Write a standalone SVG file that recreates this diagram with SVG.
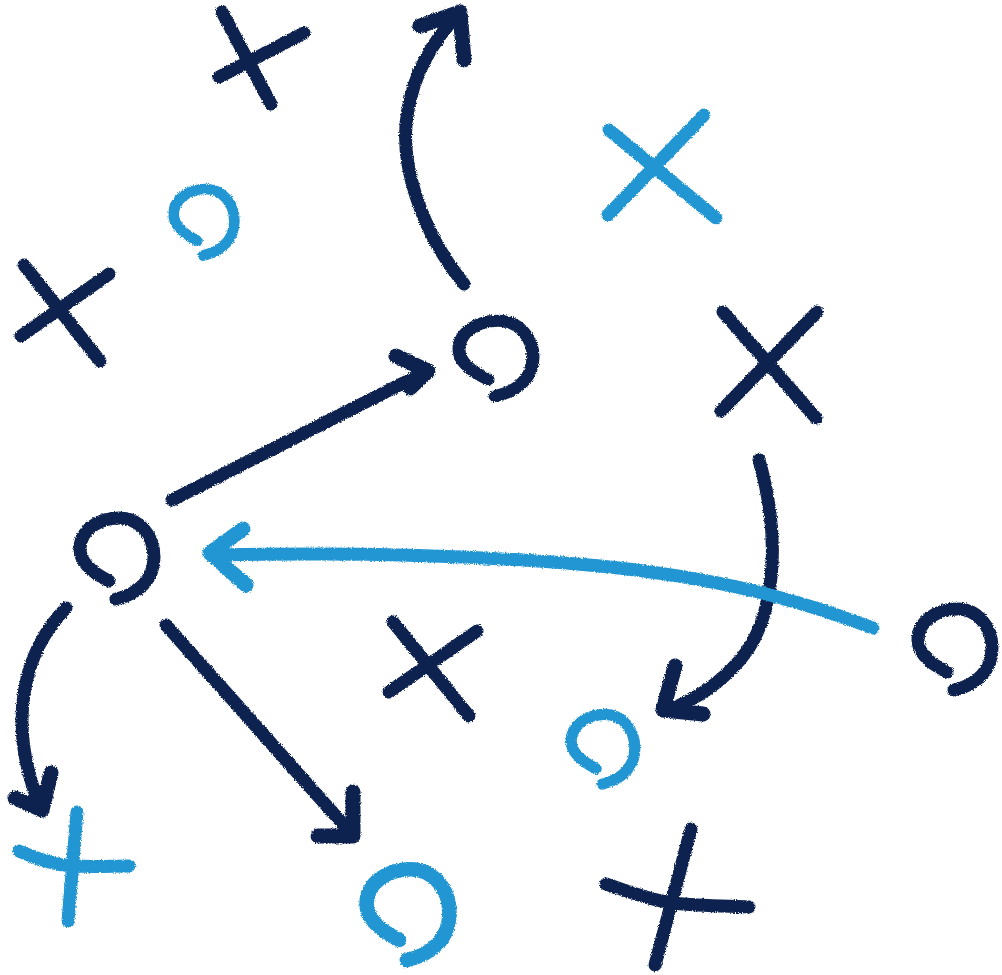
<svg xmlns="http://www.w3.org/2000/svg" width="1002" height="975" viewBox="0 0 1002 975">
  <style>
    .d { fill: none; stroke: #0e2350; stroke-width: 13; stroke-linecap: round; stroke-linejoin: round; }
    .l { fill: none; stroke: #2196d3; stroke-width: 13; stroke-linecap: round; stroke-linejoin: round; }
    .h { stroke-width: 15; }
  </style>
  <defs>
    <filter id="rough" x="-10%" y="-10%" width="120%" height="120%">
      <feTurbulence type="fractalNoise" baseFrequency="0.9" numOctaves="2" seed="3" result="n"/>
      <feDisplacementMap in="SourceGraphic" in2="n" scale="3.5" xChannelSelector="R" yChannelSelector="G"/>
    </filter>
    <path id="ring" d="M -8,24 C -24,16 -37,6 -37,-8 C -37,-27 -18,-39 2,-39 C 22,-39 37,-22 37,0 C 37,22 22,37 -1,42"/>
  </defs>
  <rect width="1002" height="975" fill="#ffffff"/>
  <g filter="url(#rough)">
    <g id="connectors">
      <g id="arrow-up">
        <path class="d" d="M 464,284 C 420,230 398,160 408,110 C 414,75 432,42 458,14"/>
        <path class="d h" d="M 420,26 L 460,12 L 464,60"/>
      </g>
      <g id="arrow-to-o2">
        <path class="d" d="M 172,500 L 425,372"/>
        <path class="d h" d="M 396,356 L 428,371 L 410,388"/>
      </g>
      <g id="arrow-down-right">
        <path class="d" d="M 166,625 L 350,832"/>
        <path class="d h" d="M 318,836 L 353,836 L 353,792"/>
      </g>
      <g id="arrow-down-left">
        <path class="d" d="M 66,608 C 25,650 5,720 40,806"/>
        <path class="d h" d="M 15,798 L 42,810 L 51,773"/>
      </g>
      <g id="arrow-curve-right">
        <path class="d" d="M 759,460 C 782,540 775,620 740,660 C 720,683 695,700 668,710"/>
        <path class="d h" d="M 675,666 L 663,710 L 703,714"/>
      </g>
      <g id="arrow-light">
        <path class="l" d="M 873,628 C 800,600 720,578 600,566 C 480,555 350,552 220,555"/>
        <path class="l h" d="M 243,529 L 210,553 L 246,585"/>
      </g>
    </g>
    <g id="x1"><path class="d" d="M 222,12 L 271,104 M 219,77 L 304,33"/></g>
    <g id="x2"><path class="d" d="M 24,265 L 100,361 M 21,336 L 109,274"/></g>
    <g id="x3"><path class="d" d="M 723,312 L 816,418 M 721,411 L 817,312"/></g>
    <g id="x4"><path class="d" d="M 393,622 L 469,716 M 389,692 L 477,631"/></g>
    <g id="x5"><path class="d" d="M 691,829 L 655,965 M 606,884 C 630,892 650,900 672,903 C 700,906 725,906 749,907"/></g>
    <g id="x6"><path class="l" d="M 609,130 L 716,218 M 608,215 L 704,115"/></g>
    <g id="x7"><path class="l" d="M 19,851 C 40,860 55,865 72,866 C 95,867 110,866 129,866 M 77,812 L 68,921"/></g>
    <g id="o1"><use href="#ring" class="d" transform="translate(117,557)"/></g>
    <g id="o2"><use href="#ring" class="d" transform="translate(496,357) scale(1,0.93)"/></g>
    <g id="o3"><use href="#ring" class="d" transform="translate(955,648)"/></g>
    <g id="o4"><use href="#ring" class="l" transform="translate(204,221) scale(0.82)"/></g>
    <g id="o5"><use href="#ring" class="l" transform="translate(603,748) scale(0.86)"/></g>
    <g id="o6"><use href="#ring" class="l" transform="translate(408,913) scale(1.12)"/></g>
  </g>
</svg>
